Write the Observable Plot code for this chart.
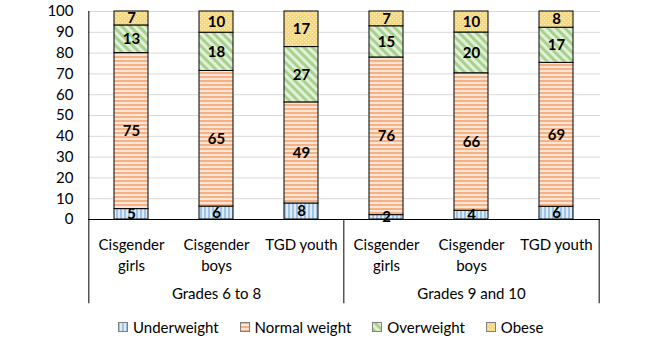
<!DOCTYPE html>
<html><head><meta charset="utf-8">
<script src="https://cdn.jsdelivr.net/npm/d3@7"></script>
<script src="https://cdn.jsdelivr.net/npm/@observablehq/plot@0.6"></script>
<style>
html,body{margin:0;padding:0;background:#fff;}
body{font-family:Lato,"Open Sans",sans-serif;width:672px;height:353px;overflow:hidden;}
#legend{display:flex;align-items:center;padding-left:118px;height:18px;margin-top:8px;font-size:15px;line-height:18px;color:#000;}
#legend .item{display:flex;align-items:center;margin-right:21px;}
#legend svg{margin-right:5px;}
</style></head>
<body><div id="chart"></div><div id="legend"></div>
<script>
// ---- data ----
const groups = ["Grades 6 to 8", "Grades 9 and 10"];
const youth = ["Cisgender girls", "Cisgender boys", "TGD youth"];
const youthLabels = ["Cisgender\ngirls", "Cisgender\nboys", "TGD youth"];
const categories = ["Underweight", "Normal weight", "Overweight", "Obese"];
// one value per bar, order: G6-8 girls, boys, TGD, G9-10 girls, boys, TGD
const underweight  = [5.0, 6.2, 7.7, 2.1, 4.2, 6.1];
const normalWeight = [75.0, 65.2, 48.6, 75.8, 66.1, 69.2];
const overweight   = [13.3, 18.4, 26.6, 15.0, 19.6, 16.9];
const obese        = [6.7, 10.2, 17.1, 7.1, 10.1, 7.8];
const yTicks = [0, 10, 20, 30, 40, 50, 60, 70, 80, 90, 100];

const series = [underweight, normalWeight, overweight, obese];
const keys = [];
groups.forEach(g => youth.forEach(y => keys.push(g + "|" + y)));
const data = [];
keys.forEach((k, i) => categories.forEach((c, j) => data.push({key: k, category: c, value: series[j][i]})));
const labelOf = new Map(keys.map((k, i) => [k, youthLabels[i % 3]]));
const groupRows = groups.map((g, i) => ({key: keys[i * 3 + 1], label: g}));
const groupStarts = groups.map((g, i) => keys[i * 3]);
const lastKey = [keys[keys.length - 1]];

const patternIds = ["pat-under", "pat-normal", "pat-over", "pat-obese"];
const patternUrls = patternIds.map(id => `url(#${id})`);

const W = 672, H = 310, mL = 88, mR = 72, mT = 11, mB = 91;
const step = (W - mL - mR) / keys.length;

const chart = Plot.plot({
  width: W, height: H,
  marginLeft: mL, marginRight: mR, marginTop: mT, marginBottom: mB,
  style: {fontFamily: "Lato, 'Open Sans', sans-serif", fontSize: "15px", color: "#000", background: "#fff"},
  x: {domain: keys, paddingInner: 0.6, paddingOuter: 0.3},
  y: {domain: [0, 100]},
  color: {domain: categories, range: patternUrls},
  marks: [
    Plot.gridY(yTicks, {stroke: "#d9d9d9", strokeOpacity: 1}),
    Plot.axisY(yTicks, {tickSize: 0, tickPadding: 15, fontSize: 15, label: null}),
    Plot.barY(data, {x: "key", y: "value", fill: "category", stroke: "#000", strokeWidth: 1}),
    Plot.text(data, Plot.stackY({x: "key", y: "value", text: d => Math.round(d.value), fontWeight: "bold", fontSize: 15, fill: "#000"})),
    Plot.ruleY([0], {stroke: "#000", strokeWidth: 1}),
    Plot.ruleX([keys[0]], {x: d => d, y1: 0, y2: 100, dx: -step / 2, stroke: "#000"}),
    Plot.ruleX(groupStarts, {x: d => d, y1: -40.5, y2: 0, dx: -step / 2, stroke: "#000"}),
    Plot.ruleX(lastKey, {x: d => d, y1: -40.5, y2: 0, dx: step / 2, stroke: "#000"}),
    Plot.axisX({tickSize: 0, tickPadding: 16, fontSize: 15, lineHeight: 1.4, tickFormat: k => labelOf.get(k), label: null}),
    Plot.text(groupRows, {x: "key", y: 0, dy: 75, text: "label", fontSize: 15, fill: "#000"})
  ]
});

// patterns
const defsHtml = `
<pattern id="pat-under" width="4" height="4" patternUnits="userSpaceOnUse">
  <rect width="4" height="4" fill="#DEEBF7"/><rect x="0" width="2" height="4" fill="#9DC3E6"/>
</pattern>
<pattern id="pat-normal" width="4" height="4" patternUnits="userSpaceOnUse">
  <rect width="4" height="4" fill="#FBE5D6"/><rect y="0" width="4" height="2" fill="#F4B183"/>
</pattern>
<pattern id="pat-over" width="6" height="6" patternUnits="userSpaceOnUse" patternTransform="rotate(-45)">
  <rect width="6" height="6" fill="#E2F0D9"/><rect x="0" width="3" height="6" fill="#A9D18E"/>
</pattern>
<pattern id="pat-obese" width="4" height="4" patternUnits="userSpaceOnUse">
  <rect width="4" height="4" fill="#FFD966"/><rect x="0" y="0" width="1" height="1" fill="#FFF2CC"/><rect x="2" y="2" width="1" height="1" fill="#FFF2CC"/>
</pattern>`;
const defs = document.createElementNS("http://www.w3.org/2000/svg", "defs");
defs.innerHTML = defsHtml;
chart.insertBefore(defs, chart.firstChild);
document.getElementById("chart").appendChild(chart);

// legend
const legend = d3.select("#legend");
categories.forEach((c, i) => {
  const item = legend.append("div").attr("class", "item");
  const sw = item.append("svg").attr("width", 10).attr("height", 10);
  sw.append("rect").attr("x", 0.5).attr("y", 0.5).attr("width", 9).attr("height", 9)
    .attr("fill", patternUrls[i]).attr("stroke", "#7f7f7f");
  item.append("span").text(c);
});
</script>
</body></html>
